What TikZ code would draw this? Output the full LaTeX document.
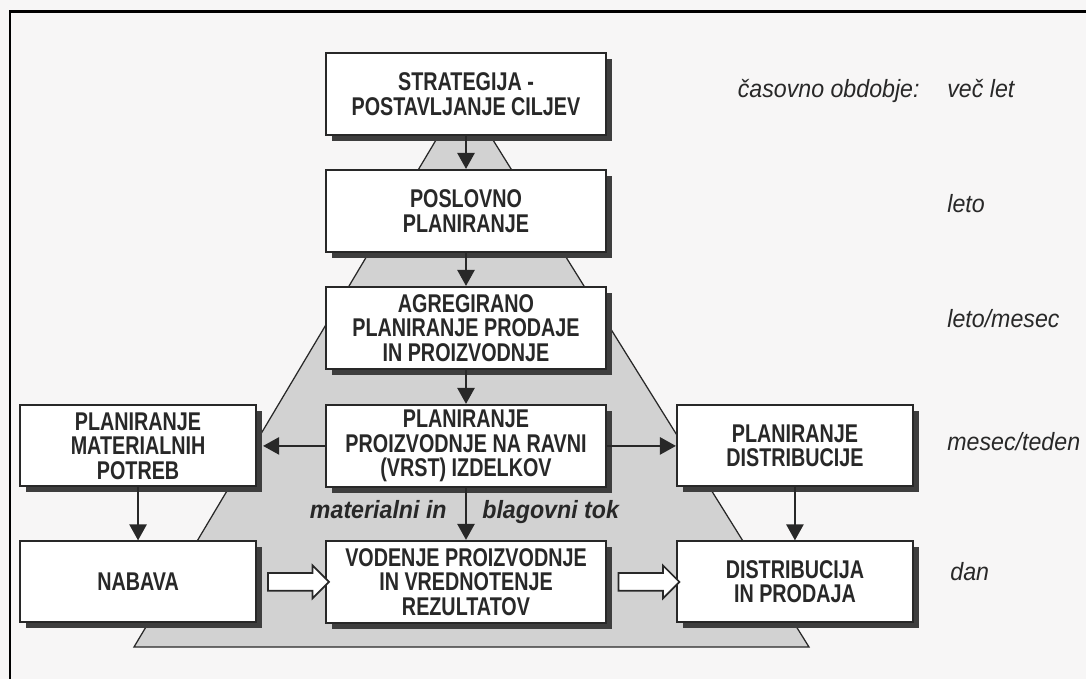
\documentclass[tikz,border=0pt]{standalone}
\usepackage{fontspec}
\usepackage{xcolor}
\usepackage{tikz}
\usetikzlibrary{shapes.arrows, arrows.meta, positioning, shadows}
\newfontfamily\boxfont[FakeStretch=0.77, BoldFeatures={FakeStretch=0.77}]{Liberation Sans}
\newfontfamily\labelfont[FakeStretch=0.93]{Liberation Sans}
\definecolor{papercolor}{RGB}{247, 246, 246}
\definecolor{inkcolor}{RGB}{40, 40, 40}
\definecolor{shadowcolor}{RGB}{62, 62, 62}
\definecolor{pyramidcolor}{RGB}{210, 210, 210}

\begin{document}
\begin{tikzpicture}[
    x=0.02cm, y=-0.02cm,
    box/.style={draw=inkcolor, line width=0.04cm, fill=white, minimum width=5.6cm, minimum height=1.64cm, inner sep=0pt, align=center, text=inkcolor, font=\boxfont\bfseries\fontsize{14.6pt}{13.9pt}\selectfont, drop shadow={shadow xshift=0.12cm, shadow yshift=-0.12cm, fill=shadowcolor, opacity=1}},
    sidebox/.style={box, minimum width=4.72cm, minimum height=1.62cm},
    arrow/.style={-{Triangle[length=0.32cm, width=0.34cm]}, line width=0.05cm, draw=inkcolor},
    hollow/.style={single arrow, draw=inkcolor, line width=0.035cm, fill=white, minimum width=0pt, minimum height=1.22cm, single arrow head extend=0.15cm, single arrow head indent=0pt, inner xsep=0pt, inner ysep=0.16cm},
    period/.style={text=inkcolor, inner sep=0pt, font=\labelfont\itshape\fontsize{14.2pt}{14.2pt}\selectfont},
    flow/.style={period, font=\labelfont\bfseries\itshape\fontsize{14.2pt}{14.2pt}\selectfont}
]
    \useasboundingbox (0,0) rectangle (1086,679);
    \fill[papercolor] (0,0) rectangle (1086,679);
    \draw[black, line width=0.06cm] (10,679) -- (10,12) -- (1086,12);

    % pyramid behind the boxes
    \filldraw[fill=pyramidcolor, draw=inkcolor, line width=0.025cm] (436,140) -- (493,140) -- (809,647) -- (134,647) -- cycle;

    % planning levels
    \node[box] (strategy) at (466,94) {STRATEGIJA -\\POSTAVLJANJE CILJEV};
    \node[box, below=0.66cm of strategy] (business) {POSLOVNO\\PLANIRANJE};
    \node[box, below=0.66cm of business] (aggregate) {AGREGIRANO\\PLANIRANJE PRODAJE\\IN PROIZVODNJE};
    \node[box, below=0.68cm of aggregate] (production) {PLANIRANJE\\PROIZVODNJE NA RAVNI\\(VRST) IZDELKOV};
    \node[box, below=1.04cm of production] (control) {VODENJE PROIZVODNJE\\IN VREDNOTENJE\\REZULTATOV};
    \node[sidebox, left=1.36cm of production] (material) {PLANIRANJE\\MATERIALNIH\\POTREB};
    \node[sidebox, below=1.06cm of material] (purchase) {NABAVA};
    \node[sidebox, right=1.38cm of production] (distplan) {PLANIRANJE\\DISTRIBUCIJE};
    \node[sidebox, below=1.06cm of distplan] (sales) {DISTRIBUCIJA\\IN PRODAJA};

    % time periods
    \node[period, anchor=base east] (span) at (920,98) {časovno obdobje:};
    \node[period, anchor=base west] (years) at (947,98) {več let};
    \node[period, anchor=base west] (year) at (947,213) {leto};
    \node[period, anchor=base west] (month) at (947,327) {leto/mesec};
    \node[period, anchor=base west] (week) at (947,450) {mesec/teden};
    \node[period, anchor=base west] (day) at (950,580) {dan};

    \node[flow, anchor=base east] (flowleft) at (447,518) {materialni in};
    \node[flow, anchor=base west] (flowright) at (482,518) {blagovni tok};

    \draw[arrow] (strategy) -- (business);
    \draw[arrow] (business) -- (aggregate);
    \draw[arrow] (aggregate) -- (production);
    \draw[arrow] (production) -- (control);
    \draw[arrow, shorten >=0.12cm] (production) -- (material);
    \draw[arrow] (production) -- (distplan);
    \draw[arrow] (material) -- (purchase);
    \draw[arrow] (distplan) -- (sales);

    \path (purchase.east) -- (control.west) node[hollow, midway, xshift=0.06cm] (supply) {};
    \path (control.east) -- (sales.west) node[hollow, midway, xshift=0.06cm] (delivery) {};
\end{tikzpicture}
\end{document}
